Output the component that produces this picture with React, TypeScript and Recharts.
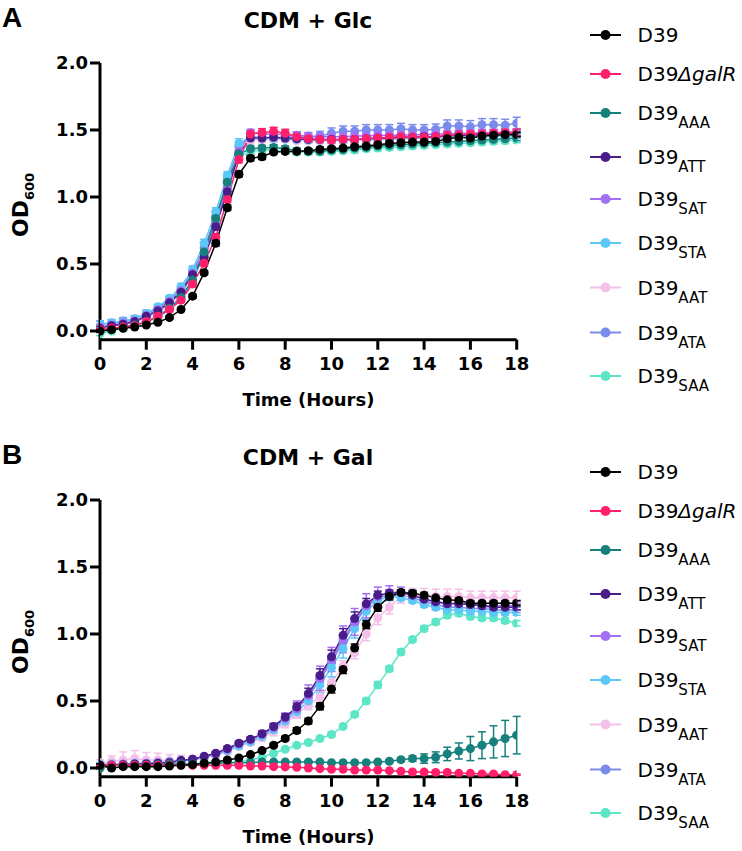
import React from 'react';
import { LineChart, Line, XAxis, YAxis, ErrorBar, Label } from 'recharts';

// ---------- categories ----------
const time = [0, 0.5, 1, 1.5, 2, 2.5, 3, 3.5, 4, 4.5, 5, 5.5, 6, 6.5, 7, 7.5, 8, 8.5, 9, 9.5, 10, 10.5, 11, 11.5, 12, 12.5, 13, 13.5, 14, 14.5, 15, 15.5, 16, 16.5, 17, 17.5, 18];
const xTicks = [0, 2, 4, 6, 8, 10, 12, 14, 16, 18];
const yTicks = [0, 0.5, 1.0, 1.5, 2.0];
const titleA = 'CDM + Glc';
const titleB = 'CDM + Gal';

// ---------- Panel A (CDM + Glc) ----------
const aD39 = [0.00, 0.01, 0.02, 0.03, 0.045, 0.065, 0.10, 0.16, 0.26, 0.435, 0.655, 0.92, 1.17, 1.29, 1.30, 1.335, 1.34, 1.34, 1.345, 1.355, 1.36, 1.365, 1.375, 1.38, 1.39, 1.40, 1.405, 1.41, 1.41, 1.415, 1.435, 1.445, 1.44, 1.455, 1.46, 1.465, 1.465];
const aGalR = [0.01, 0.02, 0.03, 0.04, 0.07, 0.11, 0.16, 0.23, 0.35, 0.505, 0.70, 0.98, 1.28, 1.47, 1.48, 1.49, 1.475, 1.45, 1.435, 1.43, 1.425, 1.43, 1.43, 1.435, 1.44, 1.445, 1.45, 1.445, 1.445, 1.45, 1.46, 1.465, 1.47, 1.47, 1.475, 1.48, 1.48];
const aAAA = [0.00, 0.01, 0.03, 0.045, 0.07, 0.11, 0.17, 0.25, 0.38, 0.59, 0.84, 1.11, 1.32, 1.36, 1.365, 1.37, 1.36, 1.345, 1.34, 1.34, 1.35, 1.355, 1.365, 1.37, 1.38, 1.385, 1.39, 1.395, 1.40, 1.405, 1.41, 1.415, 1.42, 1.425, 1.43, 1.435, 1.44];
const aATT = [0.02, 0.04, 0.05, 0.07, 0.11, 0.15, 0.21, 0.29, 0.42, 0.55, 0.78, 1.04, 1.32, 1.44, 1.44, 1.445, 1.44, 1.435, 1.43, 1.43, 1.43, 1.43, 1.43, 1.435, 1.44, 1.44, 1.445, 1.445, 1.45, 1.45, 1.455, 1.46, 1.46, 1.465, 1.47, 1.47, 1.47];
const aSAT = [0.03, 0.045, 0.06, 0.075, 0.115, 0.16, 0.22, 0.30, 0.43, 0.58, 0.80, 1.07, 1.34, 1.48, 1.47, 1.47, 1.465, 1.46, 1.455, 1.45, 1.45, 1.45, 1.455, 1.455, 1.46, 1.46, 1.46, 1.465, 1.465, 1.47, 1.47, 1.475, 1.475, 1.48, 1.48, 1.485, 1.485];
const aSTA = [0.05, 0.06, 0.07, 0.09, 0.13, 0.18, 0.245, 0.33, 0.46, 0.655, 0.89, 1.16, 1.40, 1.45, 1.44, 1.44, 1.435, 1.43, 1.425, 1.425, 1.425, 1.425, 1.43, 1.43, 1.43, 1.435, 1.435, 1.44, 1.44, 1.44, 1.445, 1.445, 1.45, 1.45, 1.45, 1.455, 1.455];
const aAAT = [0.03, 0.04, 0.05, 0.065, 0.10, 0.14, 0.19, 0.27, 0.40, 0.56, 0.79, 1.06, 1.33, 1.42, 1.43, 1.43, 1.43, 1.42, 1.42, 1.42, 1.42, 1.42, 1.425, 1.425, 1.43, 1.43, 1.435, 1.435, 1.44, 1.44, 1.445, 1.445, 1.45, 1.45, 1.455, 1.455, 1.46];
const aATA = [0.05, 0.06, 0.075, 0.09, 0.13, 0.17, 0.23, 0.31, 0.44, 0.62, 0.85, 1.12, 1.38, 1.45, 1.44, 1.44, 1.445, 1.45, 1.445, 1.455, 1.475, 1.49, 1.49, 1.50, 1.50, 1.50, 1.51, 1.50, 1.50, 1.505, 1.53, 1.53, 1.525, 1.54, 1.54, 1.535, 1.55];
const aSAA = [-0.02, 0.00, 0.02, 0.04, 0.065, 0.10, 0.16, 0.24, 0.37, 0.57, 0.82, 1.10, 1.30, 1.34, 1.35, 1.35, 1.34, 1.335, 1.335, 1.335, 1.34, 1.345, 1.35, 1.36, 1.365, 1.37, 1.375, 1.38, 1.385, 1.39, 1.395, 1.40, 1.405, 1.41, 1.415, 1.42, 1.425];

const aD39Err = [0.01, 0.01, 0.01, 0.01, 0.01, 0.01, 0.01, 0.01, 0.015, 0.015, 0.02, 0.02, 0.02, 0.02, 0.02, 0.015, 0.015, 0.015, 0.015, 0.015, 0.015, 0.015, 0.015, 0.015, 0.015, 0.015, 0.015, 0.015, 0.015, 0.015, 0.015, 0.015, 0.015, 0.015, 0.015, 0.015, 0.015];
const aGalRErr = [0.01, 0.01, 0.01, 0.01, 0.01, 0.01, 0.015, 0.015, 0.02, 0.02, 0.02, 0.02, 0.025, 0.025, 0.03, 0.03, 0.03, 0.025, 0.025, 0.025, 0.025, 0.025, 0.025, 0.025, 0.025, 0.025, 0.025, 0.025, 0.025, 0.025, 0.025, 0.025, 0.025, 0.025, 0.025, 0.025, 0.025];
const aAAAErr = [0.01, 0.01, 0.01, 0.01, 0.01, 0.01, 0.015, 0.015, 0.02, 0.02, 0.025, 0.03, 0.02, 0.02, 0.02, 0.02, 0.02, 0.02, 0.02, 0.02, 0.02, 0.02, 0.02, 0.02, 0.02, 0.02, 0.02, 0.02, 0.02, 0.02, 0.02, 0.02, 0.02, 0.02, 0.02, 0.02, 0.02];
const aATTErr = [0.015, 0.015, 0.015, 0.015, 0.015, 0.015, 0.015, 0.02, 0.02, 0.02, 0.025, 0.025, 0.02, 0.02, 0.02, 0.02, 0.02, 0.02, 0.02, 0.02, 0.02, 0.02, 0.02, 0.02, 0.02, 0.02, 0.02, 0.02, 0.02, 0.02, 0.02, 0.02, 0.02, 0.02, 0.02, 0.02, 0.02];
const aSATErr = [0.02, 0.02, 0.02, 0.02, 0.02, 0.02, 0.02, 0.02, 0.025, 0.025, 0.03, 0.03, 0.03, 0.025, 0.025, 0.025, 0.025, 0.025, 0.025, 0.025, 0.025, 0.025, 0.025, 0.025, 0.025, 0.025, 0.025, 0.025, 0.025, 0.025, 0.025, 0.025, 0.025, 0.025, 0.025, 0.025, 0.025];
const aSTAErr = [0.02, 0.02, 0.02, 0.02, 0.02, 0.02, 0.02, 0.025, 0.025, 0.03, 0.03, 0.03, 0.035, 0.025, 0.02, 0.02, 0.02, 0.02, 0.02, 0.02, 0.02, 0.02, 0.02, 0.02, 0.02, 0.02, 0.02, 0.02, 0.02, 0.02, 0.02, 0.02, 0.02, 0.02, 0.02, 0.02, 0.02];
const aAATErr = [0.02, 0.02, 0.02, 0.02, 0.02, 0.02, 0.02, 0.02, 0.02, 0.025, 0.025, 0.025, 0.025, 0.025, 0.025, 0.02, 0.02, 0.02, 0.02, 0.02, 0.02, 0.02, 0.02, 0.02, 0.02, 0.02, 0.02, 0.02, 0.02, 0.02, 0.02, 0.02, 0.02, 0.02, 0.02, 0.02, 0.02];
const aATAErr = [0.025, 0.025, 0.025, 0.025, 0.025, 0.025, 0.025, 0.025, 0.03, 0.03, 0.03, 0.03, 0.03, 0.03, 0.03, 0.03, 0.03, 0.035, 0.035, 0.035, 0.04, 0.04, 0.04, 0.04, 0.04, 0.04, 0.04, 0.04, 0.04, 0.04, 0.045, 0.045, 0.045, 0.045, 0.045, 0.045, 0.045];
const aSAAErr = [0.015, 0.015, 0.015, 0.015, 0.015, 0.015, 0.015, 0.015, 0.02, 0.02, 0.02, 0.02, 0.02, 0.02, 0.02, 0.02, 0.02, 0.02, 0.02, 0.02, 0.02, 0.02, 0.02, 0.02, 0.02, 0.02, 0.02, 0.02, 0.02, 0.02, 0.02, 0.02, 0.02, 0.02, 0.02, 0.02, 0.02];

// ---------- Panel B (CDM + Gal) ----------
const bD39 = [0.02, 0.00, 0.01, 0.01, 0.01, 0.01, 0.015, 0.02, 0.025, 0.035, 0.045, 0.06, 0.075, 0.10, 0.13, 0.17, 0.22, 0.28, 0.35, 0.46, 0.59, 0.735, 0.895, 1.07, 1.20, 1.28, 1.31, 1.305, 1.29, 1.27, 1.255, 1.25, 1.23, 1.23, 1.23, 1.23, 1.23];
const bGalR = [0.02, 0.02, 0.02, 0.02, 0.02, 0.02, 0.02, 0.02, 0.02, 0.02, 0.02, 0.02, 0.02, 0.015, 0.015, 0.01, 0.008, 0.005, 0.0, -0.005, -0.01, -0.01, -0.015, -0.015, -0.015, -0.02, -0.025, -0.03, -0.03, -0.033, -0.033, -0.04, -0.04, -0.045, -0.045, -0.05, -0.05];
const bAAA = [0.00, 0.02, 0.02, 0.02, 0.02, 0.025, 0.03, 0.03, 0.03, 0.035, 0.035, 0.04, 0.04, 0.04, 0.045, 0.045, 0.045, 0.045, 0.045, 0.045, 0.04, 0.04, 0.04, 0.04, 0.045, 0.05, 0.062, 0.07, 0.07, 0.08, 0.105, 0.127, 0.145, 0.17, 0.195, 0.22, 0.245];
const bATT = [0.02, 0.02, 0.025, 0.03, 0.03, 0.035, 0.04, 0.057, 0.065, 0.087, 0.11, 0.145, 0.185, 0.215, 0.255, 0.31, 0.38, 0.455, 0.555, 0.69, 0.83, 0.99, 1.115, 1.225, 1.29, 1.305, 1.31, 1.29, 1.26, 1.24, 1.225, 1.225, 1.22, 1.21, 1.20, 1.20, 1.20];
const bSAT = [0.02, 0.025, 0.03, 0.03, 0.035, 0.04, 0.045, 0.055, 0.065, 0.085, 0.105, 0.14, 0.18, 0.21, 0.25, 0.30, 0.37, 0.44, 0.54, 0.67, 0.81, 0.96, 1.09, 1.21, 1.28, 1.31, 1.31, 1.29, 1.26, 1.24, 1.23, 1.23, 1.22, 1.21, 1.21, 1.21, 1.21];
const bSTA = [0.03, 0.03, 0.03, 0.035, 0.035, 0.04, 0.045, 0.05, 0.06, 0.08, 0.10, 0.13, 0.165, 0.195, 0.235, 0.285, 0.35, 0.42, 0.50, 0.62, 0.75, 0.89, 1.04, 1.17, 1.25, 1.28, 1.27, 1.25, 1.22, 1.20, 1.18, 1.18, 1.17, 1.17, 1.16, 1.16, 1.16];
const bAAT = [0.04, 0.05, 0.06, 0.07, 0.06, 0.06, 0.055, 0.055, 0.06, 0.075, 0.095, 0.125, 0.16, 0.19, 0.225, 0.27, 0.33, 0.40, 0.47, 0.53, 0.64, 0.76, 0.86, 1.00, 1.12, 1.20, 1.28, 1.29, 1.29, 1.28, 1.28, 1.28, 1.27, 1.27, 1.27, 1.27, 1.27];
const bATA = [0.02, 0.02, 0.025, 0.03, 0.03, 0.035, 0.04, 0.055, 0.065, 0.085, 0.105, 0.14, 0.18, 0.21, 0.25, 0.30, 0.365, 0.44, 0.53, 0.66, 0.79, 0.94, 1.08, 1.20, 1.27, 1.29, 1.29, 1.27, 1.24, 1.22, 1.20, 1.20, 1.19, 1.19, 1.18, 1.18, 1.18];
const bSAA = [0.00, 0.02, 0.02, 0.02, 0.02, 0.02, 0.025, 0.025, 0.025, 0.03, 0.035, 0.04, 0.045, 0.06, 0.08, 0.11, 0.14, 0.17, 0.19, 0.22, 0.25, 0.31, 0.40, 0.50, 0.62, 0.74, 0.866, 0.958, 1.04, 1.09, 1.14, 1.155, 1.13, 1.12, 1.12, 1.10, 1.08];

const bD39Err = [0.01, 0.01, 0.01, 0.01, 0.01, 0.01, 0.01, 0.01, 0.01, 0.01, 0.01, 0.01, 0.01, 0.01, 0.01, 0.015, 0.015, 0.02, 0.02, 0.025, 0.03, 0.03, 0.03, 0.03, 0.03, 0.025, 0.02, 0.02, 0.02, 0.02, 0.02, 0.02, 0.02, 0.02, 0.02, 0.02, 0.02];
const bGalRErr = [0.005, 0.005, 0.005, 0.005, 0.005, 0.005, 0.005, 0.005, 0.005, 0.005, 0.005, 0.005, 0.005, 0.005, 0.005, 0.005, 0.005, 0.005, 0.005, 0.005, 0.005, 0.005, 0.005, 0.005, 0.005, 0.005, 0.005, 0.005, 0.005, 0.005, 0.005, 0.005, 0.005, 0.005, 0.005, 0.005, 0.005];
const bAAAErr = [0.005, 0.005, 0.005, 0.005, 0.005, 0.005, 0.005, 0.005, 0.005, 0.005, 0.005, 0.005, 0.005, 0.005, 0.005, 0.005, 0.005, 0.005, 0.005, 0.005, 0.005, 0.005, 0.005, 0.005, 0.01, 0.01, 0.015, 0.02, 0.035, 0.04, 0.05, 0.06, 0.09, 0.10, 0.12, 0.135, 0.14];
const bATTErr = [0.01, 0.01, 0.01, 0.01, 0.01, 0.01, 0.01, 0.01, 0.01, 0.01, 0.01, 0.015, 0.015, 0.015, 0.02, 0.02, 0.025, 0.03, 0.04, 0.05, 0.05, 0.05, 0.05, 0.04, 0.03, 0.025, 0.02, 0.02, 0.02, 0.02, 0.02, 0.02, 0.02, 0.02, 0.02, 0.02, 0.02];
const bSATErr = [0.01, 0.01, 0.01, 0.01, 0.01, 0.01, 0.01, 0.01, 0.01, 0.01, 0.015, 0.02, 0.02, 0.02, 0.03, 0.035, 0.04, 0.06, 0.08, 0.09, 0.09, 0.10, 0.10, 0.09, 0.07, 0.05, 0.04, 0.03, 0.03, 0.03, 0.03, 0.03, 0.03, 0.03, 0.03, 0.03, 0.03];
const bSTAErr = [0.01, 0.01, 0.01, 0.01, 0.01, 0.01, 0.01, 0.01, 0.01, 0.01, 0.015, 0.015, 0.02, 0.02, 0.02, 0.025, 0.03, 0.04, 0.05, 0.06, 0.07, 0.07, 0.07, 0.06, 0.04, 0.03, 0.02, 0.02, 0.02, 0.02, 0.02, 0.02, 0.02, 0.02, 0.02, 0.02, 0.02];
const bAATErr = [0.02, 0.04, 0.06, 0.06, 0.055, 0.05, 0.045, 0.04, 0.03, 0.02, 0.02, 0.02, 0.02, 0.02, 0.025, 0.03, 0.03, 0.03, 0.035, 0.04, 0.04, 0.04, 0.045, 0.05, 0.05, 0.05, 0.05, 0.05, 0.05, 0.055, 0.055, 0.055, 0.05, 0.05, 0.05, 0.05, 0.05];
const bATAErr = [0.01, 0.01, 0.01, 0.01, 0.01, 0.01, 0.01, 0.01, 0.01, 0.01, 0.01, 0.015, 0.015, 0.015, 0.02, 0.02, 0.025, 0.03, 0.035, 0.04, 0.04, 0.04, 0.04, 0.035, 0.03, 0.025, 0.02, 0.02, 0.02, 0.02, 0.02, 0.02, 0.02, 0.02, 0.02, 0.02, 0.02];
const bSAAErr = [0.01, 0.01, 0.01, 0.01, 0.01, 0.01, 0.01, 0.01, 0.01, 0.01, 0.01, 0.01, 0.01, 0.01, 0.01, 0.01, 0.01, 0.01, 0.01, 0.015, 0.015, 0.015, 0.015, 0.02, 0.025, 0.02, 0.02, 0.02, 0.02, 0.02, 0.02, 0.02, 0.02, 0.02, 0.02, 0.02, 0.02];

// ---------- series meta ----------
const seriesKeys = ['D39', 'galR', 'AAA', 'ATT', 'SAT', 'STA', 'AAT', 'ATA', 'SAA'];
const seriesSubs = ['', 'ΔgalR', 'AAA', 'ATT', 'SAT', 'STA', 'AAT', 'ATA', 'SAA'];
const seriesColors = ['#000000', '#FF1F6A', '#15807C', '#4A1C8A', '#A46EF5', '#5CC8F8', '#F4BFE8', '#7A8CEB', '#5DE6C6'];

const aValues = [aD39, aGalR, aAAA, aATT, aSAT, aSTA, aAAT, aATA, aSAA];
const aErrors = [aD39Err, aGalRErr, aAAAErr, aATTErr, aSATErr, aSTAErr, aAATErr, aATAErr, aSAAErr];
const bValues = [bD39, bGalR, bAAA, bATT, bSAT, bSTA, bAAT, bATA, bSAA];
const bErrors = [bD39Err, bGalRErr, bAAAErr, bATTErr, bSATErr, bSTAErr, bAATErr, bATAErr, bSAAErr];

function buildRows(values: number[][], errors: number[][]) {
  return time.map((t, i) => {
    const row: Record<string, number> = { t };
    seriesKeys.forEach((k, s) => {
      row[k] = values[s][i];
      row[k + '_e'] = errors[s][i];
    });
    return row;
  });
}

const rowsA = buildRows(aValues, aErrors);
const rowsB = buildRows(bValues, bErrors);

const BOLD = '"DejaVu Sans", sans-serif';
const legendOffsets = [0, 39, 78, 122, 164, 208, 252.5, 297.5, 341];

const XTitle = () => (
  <text x={308.4} y={406} textAnchor="middle" fontFamily={BOLD} fontWeight={700} fontSize={18} fill="#000">
    Time (Hours)
  </text>
);

const YTitle = () => (
  <text transform="translate(27.5,205) rotate(-90)" textAnchor="middle" fontFamily={BOLD} fontWeight={700} fill="#000">
    <tspan fontSize={22}>OD</tspan>
    <tspan fontSize={13} dy={6}>600</tspan>
  </text>
);

function Panel({ rows, height, bottom }: { rows: Record<string, number>[]; height: number; bottom: number }) {
  const order = [8, 7, 6, 5, 4, 3, 2, 1, 0];
  return (
    <LineChart width={742} height={height} data={rows} margin={{ top: 63, right: 225.3, left: 40, bottom }}>
      <XAxis
        type="number"
        dataKey="t"
        domain={[0, 18]}
        ticks={xTicks}
        interval={0}
        allowDataOverflow
        height={30}
        axisLine={{ stroke: '#000', strokeWidth: 3 }}
        tickLine={{ stroke: '#000', strokeWidth: 3 }}
        tickSize={10}
        tickMargin={8}
        tick={{ fill: '#000', fontFamily: BOLD, fontWeight: 700, fontSize: 18 }}
      >
        <Label content={XTitle} />
      </XAxis>
      <YAxis
        type="number"
        domain={[-0.065, 2]}
        ticks={yTicks}
        interval={0}
        allowDataOverflow
        width={60}
        tickFormatter={(v: number) => v.toFixed(1)}
        axisLine={{ stroke: '#000', strokeWidth: 3 }}
        tickLine={{ stroke: '#000', strokeWidth: 3 }}
        tickSize={10}
        tickMargin={2}
        tick={{ fill: '#000', fontFamily: BOLD, fontWeight: 700, fontSize: 18 }}
      >
        <Label content={YTitle} />
      </YAxis>
      {order.map((s) => (
        <Line
          key={seriesKeys[s]}
          type="linear"
          dataKey={seriesKeys[s]}
          stroke={seriesColors[s]}
          strokeWidth={1.5}
          dot={{ r: 4.5, fill: seriesColors[s], stroke: seriesColors[s], strokeWidth: 0 }}
          activeDot={false}
          isAnimationActive={false}
        >
          <ErrorBar dataKey={seriesKeys[s] + '_e'} direction="y" width={4} stroke={seriesColors[s]} strokeWidth={1.5} />
        </Line>
      ))}
    </LineChart>
  );
}

function Overlay({ letter, title, height }: { letter: string; title: string; height: number }) {
  return (
    <svg width={742} height={height} style={{ position: 'absolute', left: 0, top: 0, pointerEvents: 'none' }}>
      <text x={2} y={27} fontFamily='"Liberation Sans", Arial, sans-serif' fontWeight={700} fontSize={28} fill="#000">
        {letter}
      </text>
      <text x={308} y={28} textAnchor="middle" fontFamily={BOLD} fontWeight={700} fontSize={22} fill="#000">
        {title}
      </text>
      {seriesKeys.map((k, i) => {
        const cy = 35 + legendOffsets[i];
        const sub = seriesSubs[i];
        return (
          <g key={k}>
            <line x1={590} x2={621} y1={cy} y2={cy} stroke={seriesColors[i]} strokeWidth={2} />
            <circle cx={605.5} cy={cy} r={5} fill={seriesColors[i]} />
            <text x={637.5} y={cy + 7} fontFamily='"DejaVu Sans", sans-serif' fontSize={20} fill="#000">
              D39
              {i === 1 ? (
                <tspan fontStyle="italic">{sub}</tspan>
              ) : sub ? (
                <tspan fontSize={15} dy={8}>{sub}</tspan>
              ) : null}
            </text>
          </g>
        );
      })}
    </svg>
  );
}

export default function App() {
  return (
    <div style={{ position: 'absolute', left: 0, top: 0, width: 742, height: 851, overflow: 'hidden', background: '#fff' }}>
      <div style={{ position: 'absolute', left: 0, top: 0, width: 742, height: 437 }}>
        <Panel rows={rowsA} height={437} bottom={67.3} />
        <Overlay letter="A" title={titleA} height={437} />
      </div>
      <div style={{ position: 'absolute', left: 0, top: 437, width: 742, height: 414 }}>
        <Panel rows={rowsB} height={414} bottom={44.3} />
        <Overlay letter="B" title={titleB} height={414} />
      </div>
    </div>
  );
}
